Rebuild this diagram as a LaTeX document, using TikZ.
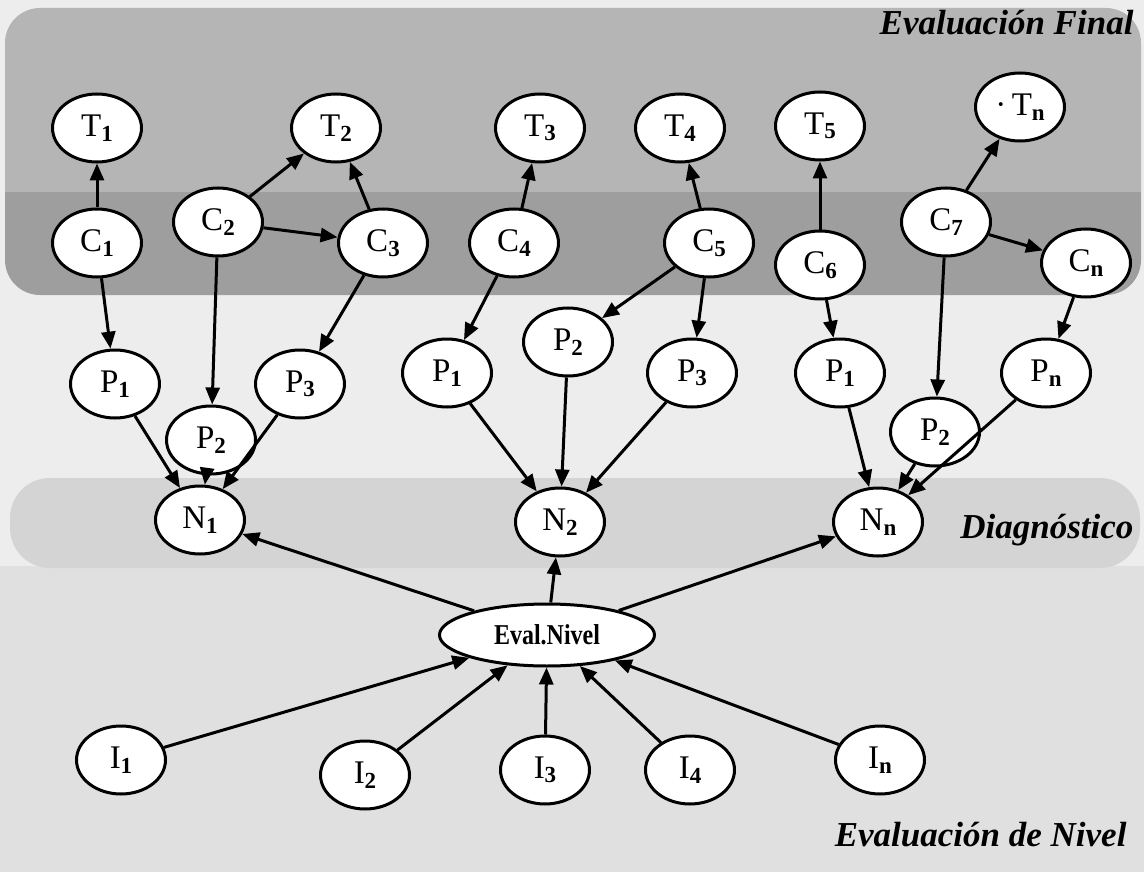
\documentclass[tikz,border=0pt]{standalone}
\usepackage{fontspec}
\setmainfont{Liberation Serif}
\usetikzlibrary{shapes.geometric,arrows.meta}
\definecolor{panelA}{gray}{0.71}
\definecolor{panelB}{gray}{0.62}
\definecolor{paper}{gray}{0.93}
\definecolor{band}{gray}{0.83}
\definecolor{floorgray}{gray}{0.88}
\newcommand\sub[1]{\raisebox{-0.3ex}{\fontsize{23}{23}\selectfont\bfseries#1}}
\begin{document}
\begin{tikzpicture}[x=1pt,y=-1pt,
  state/.style={ellipse,draw,line width=3pt,fill=white,minimum width=89pt,
    minimum height=68pt,inner sep=0pt,font=\fontsize{33}{33}\selectfont},
  link/.style={line width=3pt,-{Triangle[length=17pt,width=14pt]}},
  zone/.style={font=\fontsize{35}{35}\selectfont\bfseries\itshape,anchor=east}]
\useasboundingbox (0,0) rectangle (1144,872);

% background areas
\fill[paper] (0,0) rectangle (1144,872);
\fill[floorgray] (0,566) rectangle (1144,872);
\fill[band,rounded corners=40pt] (10,478) rectangle (1140,568);
\begin{scope}
  \clip[rounded corners=35pt] (5,8) rectangle (1141,295);
  \fill[panelA] (0,0) rectangle (1144,192);
  \fill[panelB] (0,192) rectangle (1144,300);
\end{scope}

% zone titles
\node[zone] (zfinal) at (1137,23) {Evaluación Final};
\node[zone] (zdiag) at (1137,530) {Diagnóstico};
\node[zone] (znivel) at (1130,835) {Evaluación de Nivel};

% final evaluation
\node[state] (T1) at (97,128) {T\sub{1}};
\node[state] (T2) at (336,128) {T\sub{2}};
\node[state] (T3) at (540,128) {T\sub{3}};
\node[state] (T4) at (680,128) {T\sub{4}};
\node[state] (T5) at (820,126) {T\sub{5}};
\node[state] (Tn) at (1020,107) {·\,T\sub{n}};
\node[state] (C1) at (97,243) {C\sub{1}};
\node[state] (C2) at (218,222) {C\sub{2}};
\node[state] (C3) at (383,243) {C\sub{3}};
\node[state] (C4) at (514,243) {C\sub{4}};
\node[state] (C5) at (709,243) {C\sub{5}};
\node[state] (C6) at (820,265) {C\sub{6}};
\node[state] (C7) at (946,222) {C\sub{7}};
\node[state] (Cn) at (1086,263) {C\sub{n}};

% intermediate states
\node[state] (P1a) at (115,384) {P\sub{1}};
\node[state] (P2a) at (211,440) {P\sub{2}};
\node[state] (P3a) at (300,384) {P\sub{3}};
\node[state] (P1b) at (447,373) {P\sub{1}};
\node[state] (P2b) at (568,342) {P\sub{2}};
\node[state] (P3b) at (692,373) {P\sub{3}};
\node[state] (P1c) at (840,373) {P\sub{1}};
\node[state] (P2c) at (935,432) {P\sub{2}};
\node[state] (Pn) at (1046,373) {P\sub{n}};

% diagnosis
\node[state] (N1) at (200,520) {N\sub{1}};
\node[state] (N2) at (560,522) {N\sub{2}};
\node[state] (Nn) at (878,522) {N\sub{n}};

% level evaluation
\node[state,minimum width=215pt,minimum height=62pt,
  font=\fontsize{25}{25}\selectfont\bfseries] (EN) at (547,635)
  {\scalebox{0.96}[1.15]{Eval.Nivel}};
\node[state] (I1) at (121,760) {I\sub{1}};
\node[state] (I2) at (365,775) {I\sub{2}};
\node[state] (I3) at (545,770) {I\sub{3}};
\node[state] (I4) at (690,770) {I\sub{4}};
\node[state] (In) at (880,760) {I\sub{n}};

% connectors
\draw[link] (C1) -- (T1);
\draw[link] (C2) -- (T2);
\draw[link] (C3) -- (T2);
\draw[link] (C2) -- (C3);
\draw[link] (C4) -- (T3);
\draw[link] (C5) -- (T4);
\draw[link] (C6) -- (T5);
\draw[link] (C7) -- (Tn);
\draw[link] (C7) -- (Cn);

\draw[link] (C1) -- (P1a);
\draw[link] (C2) -- (P2a);
\draw[link] (C3) -- (P3a);
\draw[link] (C4) -- (P1b);
\draw[link] (C5) -- (P2b);
\draw[link] (C5) -- (P3b);
\draw[link] (C6) -- (P1c);
\draw[link] (C7) -- (P2c);
\draw[link] (Cn) -- (Pn);

\draw[link] (P1a) -- (N1);
\draw[link] (P2a) -- (N1);
\draw[link] (P3a) -- (N1);
\draw[link] (P1b) -- (N2);
\draw[link] (P2b) -- (N2);
\draw[link] (P3b) -- (N2);
\draw[link] (P1c) -- (Nn);
\draw[link] (P2c) -- (Nn);
\draw[link] (Pn) -- (Nn);

\draw[link] (EN) -- (N1);
\draw[link] (EN) -- (N2);
\draw[link] (EN) -- (Nn);

\draw[link] (I1) -- (EN);
\draw[link] (I2) -- (EN);
\draw[link] (I3) -- (EN);
\draw[link] (I4) -- (EN);
\draw[link] (In) -- (EN);
\end{tikzpicture}
\end{document}
